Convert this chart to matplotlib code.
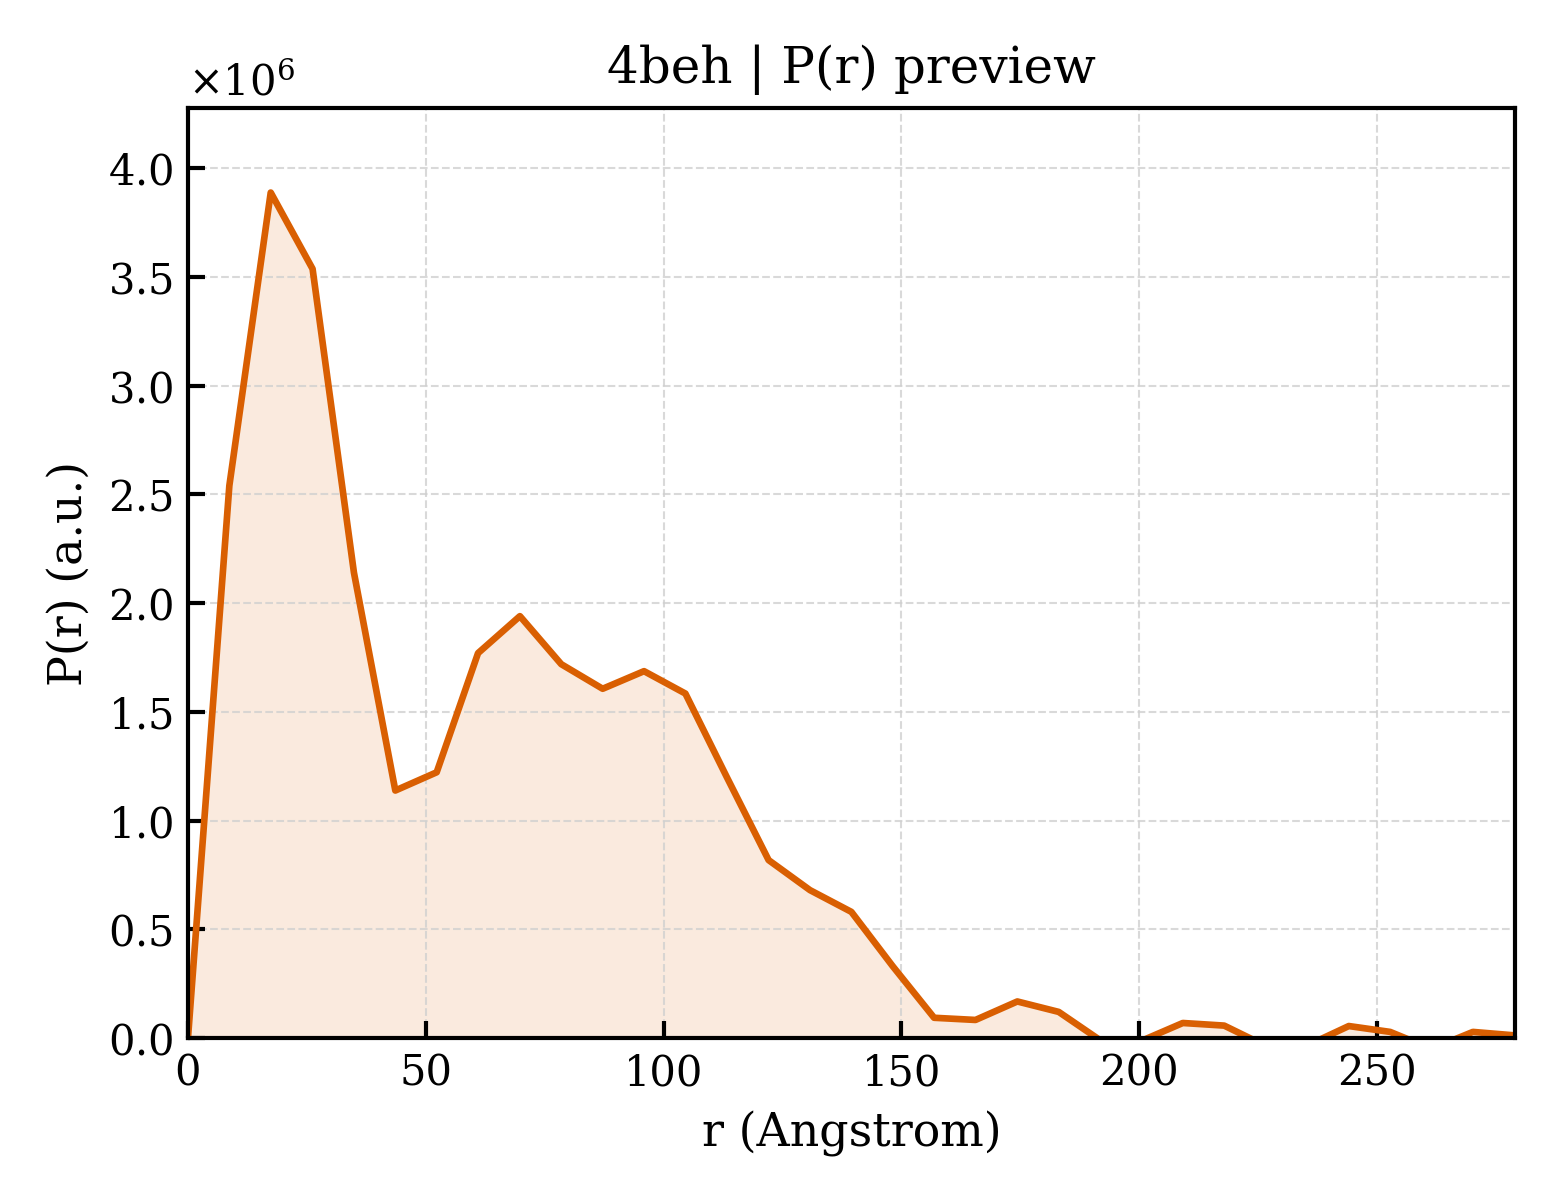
import numpy as np
import matplotlib
matplotlib.use("Agg")
import matplotlib.pyplot as plt

# P(r) preview data
r = [0.0, 8.7, 17.4, 26.2, 34.9, 43.6, 52.3, 61.0, 69.8, 78.5, 87.2,
     95.9, 104.6, 113.3, 122.1, 130.8, 139.5, 148.2, 156.9, 165.6, 174.4,
     183.1, 191.8, 200.5, 209.2, 217.9, 226.7, 235.4, 244.1, 252.8, 261.5,
     270.2, 279.0]
pr = [0.0, 2.54, 3.888, 3.537, 2.14, 1.138, 1.222, 1.770, 1.940, 1.719, 1.606,
      1.687, 1.584, 1.20, 0.818, 0.680, 0.580, 0.33, 0.093, 0.083, 0.168,
      0.120, -0.01, -0.013, 0.069, 0.057, -0.037, -0.034, 0.055, 0.028, -0.05,
      0.028, 0.012]
pr = np.array(pr) * 1e6

plt.rcParams["font.family"] = "DejaVu Serif"
plt.rcParams["mathtext.fontset"] = "dejavuserif"

color = "#d95f02"

fig, ax = plt.subplots(figsize=(5.2, 4), dpi=300)
fig.subplots_adjust(left=0.1205, right=0.971, top=0.91, bottom=0.135)

ax.fill_between(r, pr, 0, color=color, alpha=0.13, lw=0)
ax.plot(r, pr, color=color, lw=1.6)

ax.set_xlim(0, max(r))
ax.set_ylim(0, pr.max() * 1.1)
ax.set_title("4beh | P(r) preview", fontsize=12)
ax.set_xlabel("r (Angstrom)", fontsize=11)
ax.set_ylabel("P(r) (a.u.)", fontsize=11)

ax.ticklabel_format(axis="y", style="sci", scilimits=(0, 0), useMathText=True)
ax.tick_params(direction="in", length=4, width=1, labelsize=10)
ax.grid(True, ls="--", lw=0.5, color="#d0d0d0", alpha=0.8)
for s in ax.spines.values():
    s.set_linewidth(1.0)

fig.savefig("out.png", dpi=300)
